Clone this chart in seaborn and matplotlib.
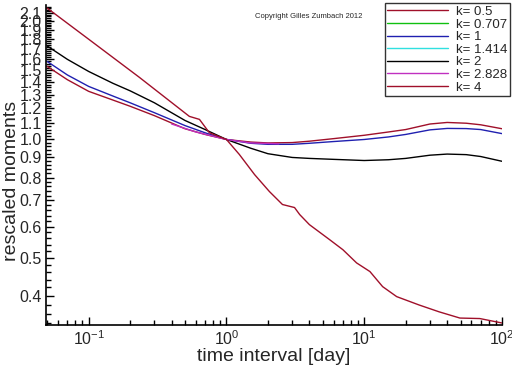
import matplotlib
matplotlib.use("Agg")
import matplotlib.pyplot as plt
import seaborn as sns
import numpy as np
from matplotlib.lines import Line2D
from matplotlib.ticker import FixedLocator, FormatStrFormatter, NullFormatter, LogLocator

# data
k_labels = ["k= 0.5", "k= 0.707", "k= 1", "k= 1.414", "k= 2", "k= 2.828", "k= 4"]
k_colors = ["#a0102a", "#10c010", "#2020b0", "#30e0e0", "#000000", "#c030c0", "#a0102a"]

x_smooth = [0.05, 0.07, 0.1, 0.15, 0.2, 0.3, 0.5, 0.7, 1, 1.5, 2, 3, 4, 6, 10,
            15, 20, 30, 40, 55, 70, 100]
y_k05 = [1.535, 1.42, 1.326, 1.26, 1.215, 1.15, 1.065, 1.03, 1.0, 0.985, 0.98, 0.982,
         0.99, 1.005, 1.025, 1.045, 1.06, 1.095, 1.105, 1.1, 1.09, 1.065]
y_k1 = [1.58, 1.46, 1.365, 1.29, 1.24, 1.17, 1.085, 1.04, 1.0, 0.978, 0.972, 0.972,
        0.978, 0.988, 1.0, 1.015, 1.03, 1.058, 1.067, 1.066, 1.06, 1.035]
y_k2 = [1.73, 1.6, 1.49, 1.39, 1.33, 1.24, 1.118, 1.06, 1.0, 0.95, 0.92, 0.9,
        0.895, 0.89, 0.884, 0.888, 0.895, 0.912, 0.918, 0.915, 0.905, 0.88]

x_k2828 = [0.4, 0.6, 1, 1.5, 2.4]
y_k2828 = [1.095, 1.045, 1.0, 0.98, 0.975]

x_k4 = [0.05, 0.1, 0.233, 0.538, 0.637, 0.752, 1.0, 1.24, 1.6, 2.05, 2.55, 3.12, 3.4,
        4.0, 5.6, 7.0, 8.8, 11, 13.6, 17.2, 25, 35, 49.5, 69, 100]
y_k4 = [2.16, 1.8, 1.44, 1.145, 1.125, 1.04, 1.0, 0.916, 0.814, 0.737, 0.683, 0.671, 0.644,
        0.607, 0.556, 0.524, 0.485, 0.461, 0.422, 0.398, 0.379, 0.364, 0.351, 0.350, 0.341]

sns.set_style("white")
plt.rcParams['font.family'] = ['Liberation Sans', 'DejaVu Sans']
plt.rcParams['mathtext.fontset'] = 'custom'
plt.rcParams['mathtext.rm'] = 'Liberation Sans'

fig = plt.figure(figsize=(5.12, 3.66), dpi=100)
ax = fig.add_axes([46/512, 41/366, 456/512, 320/366])

# series drawn (green / cyan are hidden in the reference)
series = [
    (x_smooth, y_k05, k_colors[0]),
    (x_smooth, y_k1, k_colors[2]),
    (x_smooth, y_k2, k_colors[4]),
    (x_k2828, y_k2828, k_colors[5]),
    (x_k4, y_k4, k_colors[6]),
]
for xs, ys, c in series:
    sns.lineplot(x=xs, y=ys, color=c, lw=1.0, ax=ax)

ax.set_xscale("log")
ax.set_yscale("log")
ax.set_xlim(0.049, 100)
ax.set_ylim(0.337, 2.2)

yt = np.round(np.arange(0.4, 2.15, 0.1), 1)
ax.yaxis.set_major_locator(FixedLocator(yt))
ax.yaxis.set_major_formatter(FormatStrFormatter('%.1f'))
ax.yaxis.set_minor_locator(FixedLocator(np.round(np.arange(0.34, 2.2, 0.02), 2)))
ax.yaxis.set_minor_formatter(NullFormatter())
ax.xaxis.set_major_locator(LogLocator(base=10, numticks=10))
ax.xaxis.set_minor_locator(LogLocator(base=10, subs=np.arange(2, 10), numticks=20))

ax.tick_params(which='both', bottom=True, left=True, top=False, right=False)
ax.tick_params(which='major', direction='in', length=6, width=1, labelsize=11.5, pad=3,
               color='black')
ax.tick_params(which='minor', direction='in', length=3.5, width=1, color='black')
for s in ['top', 'right']:
    ax.spines[s].set_visible(False)
for s in ['left', 'bottom']:
    ax.spines[s].set_color('black')
    ax.spines[s].set_linewidth(1.2)

ax.set_xlabel("time interval [day]", fontsize=14, labelpad=0)
ax.set_ylabel("rescaled moments", fontsize=14)
ax.yaxis.set_label_coords(-0.058, 0.45)

handles = [Line2D([], [], color=c, lw=1.0) for c in k_colors]
leg = ax.legend(handles, k_labels, loc='upper right', bbox_to_anchor=(510/512, 1 - 3/366),
                bbox_transform=fig.transFigure, fontsize=9.5, frameon=True, fancybox=False,
                handlelength=4.6, handletextpad=0.6, labelspacing=0.03, borderpad=0.2,
                borderaxespad=0)
leg.get_frame().set_edgecolor('black')
leg.get_frame().set_linewidth(1.0)

fig.text(255/512, 1 - 17/366, "Copyright Gilles Zumbach 2012", fontsize=5.5, va='center')

fig.savefig("out.png", dpi=100)
